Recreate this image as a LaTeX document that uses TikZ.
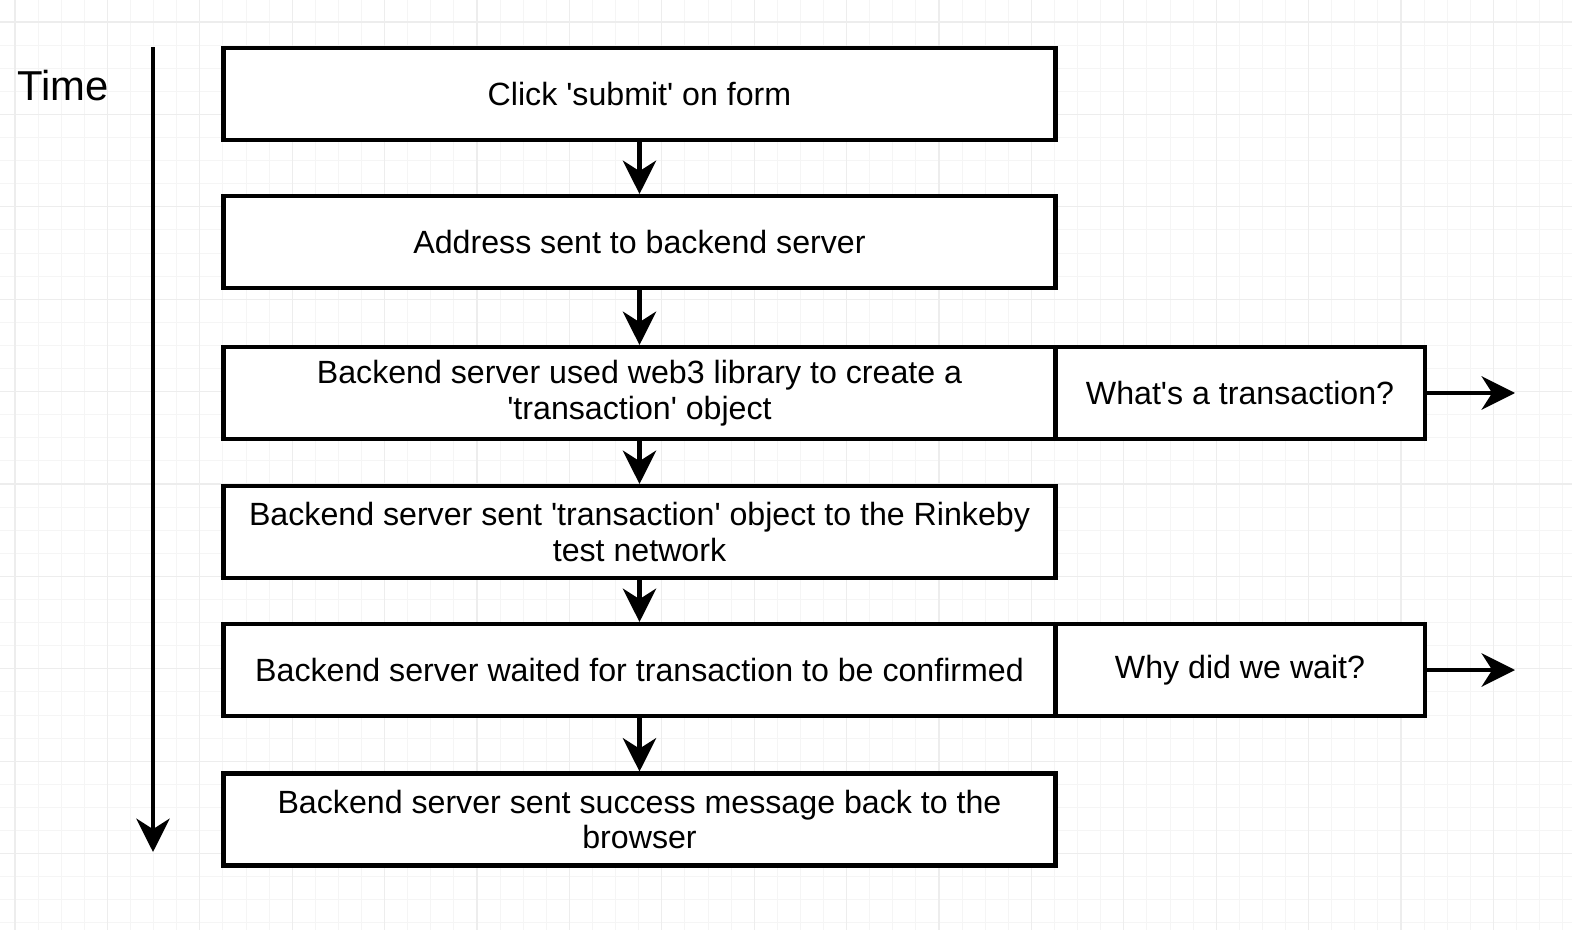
\documentclass[tikz,border=0pt]{standalone}
\usepackage{fontspec}
\setmainfont{Liberation Sans}
\usetikzlibrary{arrows.meta}
\newcommand{\sq}{\textquotesingle}
\tikzset{
  stepbox/.style={draw=black, line width=2.3pt, fill=white, align=center,
    font=\fontsize{18.3pt}{20.4pt}\selectfont, inner sep=0pt},
  mainbox/.style={stepbox, minimum width=16.64cm, minimum height=1.84cm},
  sidebox/.style={stepbox, minimum width=7.38cm, minimum height=1.84cm},
  arr/.style={line width=2.5pt, -{Stealth[length=19pt, width=19pt, inset=6pt]}},
  minorgrid/.style={draw=black!4, line width=0.5pt},
  majorgrid/.style={draw=black!7, line width=0.6pt}
}
\begin{document}
\begin{tikzpicture}
\useasboundingbox (0,0) rectangle (31.44,-18.6);
\fill[white] (0,0) rectangle (31.44,-18.6);
% grid
\foreach \i in {-1,...,68} {
  \draw[minorgrid] ({0.3+0.462*\i},0) -- ({0.3+0.462*\i},-18.6);
}
\foreach \j in {-1,...,41} {
  \draw[minorgrid] (0,{-0.44-0.462*\j}) -- (31.44,{-0.44-0.462*\j});
}
\foreach \i in {0,...,17} {
  \draw[majorgrid] ({0.3+1.848*\i},0) -- ({0.3+1.848*\i},-18.6);
}
\foreach \j in {0,...,10} {
  \draw[majorgrid] (0,{-0.44-1.848*\j}) -- (31.44,{-0.44-1.848*\j});
}
% time axis
\node[font=\fontsize{23.8pt}{27pt}\selectfont] (time) at (1.26,-1.72) {Time};
\coordinate (ttop) at (3.06,-0.94);
\coordinate (tbot) at (3.06,-17.04);
\draw[arr] (ttop) -- (tbot);
% boxes
\node[mainbox] (b1) at (12.79,-1.88) {Click \sq submit\sq{} on form};
\node[mainbox] (b2) at (12.79,-4.84) {Address sent to backend server};
\node[mainbox] (b3) at (12.79,-7.86) {Backend server used web3 library to create a\\\sq transaction\sq{} object};
\node[mainbox] (b4) at (12.79,-10.64) {Backend server sent \sq transaction\sq{} object to the Rinkeby\\test network};
\node[mainbox] (b5) at (12.79,-13.40) {Backend server waited for transaction to be confirmed};
\node[mainbox] (b6) at (12.79,-16.39) {Backend server sent success message back to the\\browser};
\node[sidebox] (s3) at (24.80,-7.86) {What\sq s a transaction?};
\node[sidebox] (s5) at (24.80,-13.40) {Why did we wait?};
\coordinate (e3) at (30.3,-7.86);
\coordinate (e5) at (30.3,-13.40);
% connectors
\draw[arr] (b1) -- (b2);
\draw[arr] (b2) -- (b3);
\draw[arr] (b3) -- (b4);
\draw[arr] (b4) -- (b5);
\draw[arr] (b5) -- (b6);
\draw[arr] (s3) -- (e3);
\draw[arr] (s5) -- (e5);
\end{tikzpicture}
\end{document}
